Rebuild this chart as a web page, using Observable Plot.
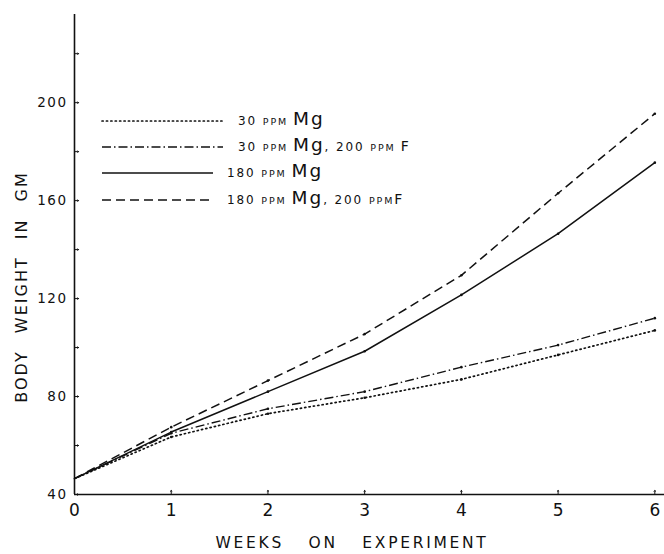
<!DOCTYPE html>
<html>
<head>
<meta charset="utf-8">
<script src="https://cdn.jsdelivr.net/npm/d3@7"></script>
<script src="https://cdn.jsdelivr.net/npm/@observablehq/plot@0.6"></script>
<style>
  html, body { margin: 0; padding: 0; background: #fff; }
  #wrap { position: relative; width: 664px; height: 554px; }
  #legend { position: absolute; left: 0; top: 0; }
  text { font-family: "DejaVu Sans", sans-serif; }
</style>
</head>
<body>
<div id="wrap"></div>
<script>
// ---- data ----
const weeks = [0, 1, 2, 3, 4, 5, 6];
const mg30 = [46.5, 63.5, 73, 79.5, 87, 97, 107];
const mg30F = [46.5, 65, 75, 82, 92, 101, 112];
const mg180 = [46.5, 65.5, 82, 98.5, 121.5, 146.5, 175.5];
const mg180F = [46.5, 67.5, 86.5, 105.5, 129.5, 163, 195.5];
const seriesNames = ["30 PPM Mg", "30 PPM Mg, 200 PPM F", "180 PPM Mg", "180 PPM Mg, 200 PPM F"];
const yTickLabels = [40, 80, 120, 160, 200];
const yMinorTicks = [40, 60, 80, 100, 120, 140, 160, 180, 200, 220];
const xTicks = [0, 1, 2, 3, 4, 5, 6];
const yTitle = "BODY WEIGHT IN GM";
const xTitle = "WEEKS ON EXPERIMENT";

const styles = {
  "30 PPM Mg": {dash: "1.2,3.2", cap: "round", w: 1.7},
  "30 PPM Mg, 200 PPM F": {dash: "9,3,1.5,3", cap: "butt", w: 1.4},
  "180 PPM Mg": {dash: null, cap: "butt", w: 1.5},
  "180 PPM Mg, 200 PPM F": {dash: "9,5", cap: "butt", w: 1.5}
};
const allSeries = [mg30, mg30F, mg180, mg180F];
const rows = [];
allSeries.forEach((vals, i) => weeks.forEach((w, j) => rows.push({series: seriesNames[i], week: w, value: vals[j]})));

const lineMarks = seriesNames.map(name => Plot.line(rows.filter(d => d.series === name), {
  x: "week", y: "value", stroke: "#111", strokeWidth: styles[name].w,
  strokeDasharray: styles[name].dash, strokeLinecap: styles[name].cap
}));

const chart = Plot.plot({
  width: 664,
  height: 554,
  marginLeft: 74,
  marginRight: 0,
  marginTop: 14,
  marginBottom: 60,
  style: {fontFamily: "DejaVu Sans, sans-serif", color: "#111", background: "#fff"},
  x: {domain: [0, 6.1], axis: null},
  y: {domain: [40, 236], axis: null},
  marks: [
    Plot.ruleX([0], {stroke: "#111", strokeWidth: 1.6}),
    Plot.ruleY([40], {stroke: "#111", strokeWidth: 1.6}),
    Plot.vector(yMinorTicks, {x: 0, y: d => d, length: 4, rotate: 90, anchor: "start", stroke: "#111", strokeWidth: 1}),
    Plot.vector(xTicks.slice(1), {x: d => d, y: 40, length: 4, rotate: 0, anchor: "start", stroke: "#111", strokeWidth: 1}),
    Plot.axisY({ticks: yTickLabels, tickSize: 0, tickPadding: 7, fontSize: 13.5, fill: "#111", label: null, tickFormat: d3.format("d")}),
    Plot.axisX({ticks: xTicks, tickSize: 0, tickPadding: 9, fontSize: 17, fill: "#111", label: null, tickFormat: d3.format("d")}),
    ...lineMarks,
    Plot.dot(rows.filter(d => d.week > 0), {x: "week", y: "value", r: 1.3, fill: "#111", stroke: null})
  ]
});
chart.querySelectorAll("g[aria-label='y-axis tick label'] text").forEach(t => { t.style.letterSpacing = "1.5px"; });
document.getElementById("wrap").appendChild(chart);

// ---- overlay: titles and legend ----
const leg = d3.select("#wrap").append("svg").attr("id", "legend").attr("width", 664).attr("height", 554);
leg.append("text").attr("transform", "translate(27,287) rotate(-90)").attr("text-anchor", "middle")
  .attr("font-size", 16).attr("fill", "#111").style("letter-spacing", "2px").style("word-spacing", "10px").text(yTitle);
leg.append("text").attr("x", 352).attr("y", 548).attr("text-anchor", "middle")
  .attr("font-size", 15.5).attr("fill", "#111").style("letter-spacing", "2.7px").style("word-spacing", "17px").text(xTitle);

const legRows = [
  {name: seriesNames[0], y: 121, x2: 223, tx: 238, parts: [["30 ", 12], ["PPM ", 9.5], ["Mg", 18.5]]},
  {name: seriesNames[1], y: 147, x2: 223, tx: 238, parts: [["30 ", 12], ["PPM ", 9.5], ["Mg", 18.5], [", 200 ", 12], ["PPM ", 9.5], ["F", 14]]},
  {name: seriesNames[2], y: 173, x2: 213, tx: 227, parts: [["180 ", 12], ["PPM ", 9.5], ["Mg", 18.5]]},
  {name: seriesNames[3], y: 200, x2: 213, tx: 227, parts: [["180 ", 12], ["PPM ", 9.5], ["Mg", 18.5], [", 200 ", 12], ["PPM", 9.5], ["F", 14]]}
];
legRows.forEach(r => {
  const s = styles[r.name];
  leg.append("line").attr("x1", 102).attr("x2", r.x2).attr("y1", r.y).attr("y2", r.y)
    .attr("stroke", "#111").attr("stroke-width", s.w)
    .attr("stroke-dasharray", s.dash).attr("stroke-linecap", s.cap);
  const t = leg.append("text").attr("x", r.tx).attr("y", r.y + 4).attr("fill", "#111")
    .style("font-family", "DejaVu Sans, sans-serif").style("letter-spacing", "1.9px");
  r.parts.forEach(([str, fs]) => t.append("tspan").attr("font-size", fs).attr("xml:space", "preserve").text(str));
});
</script>
</body>
</html>
